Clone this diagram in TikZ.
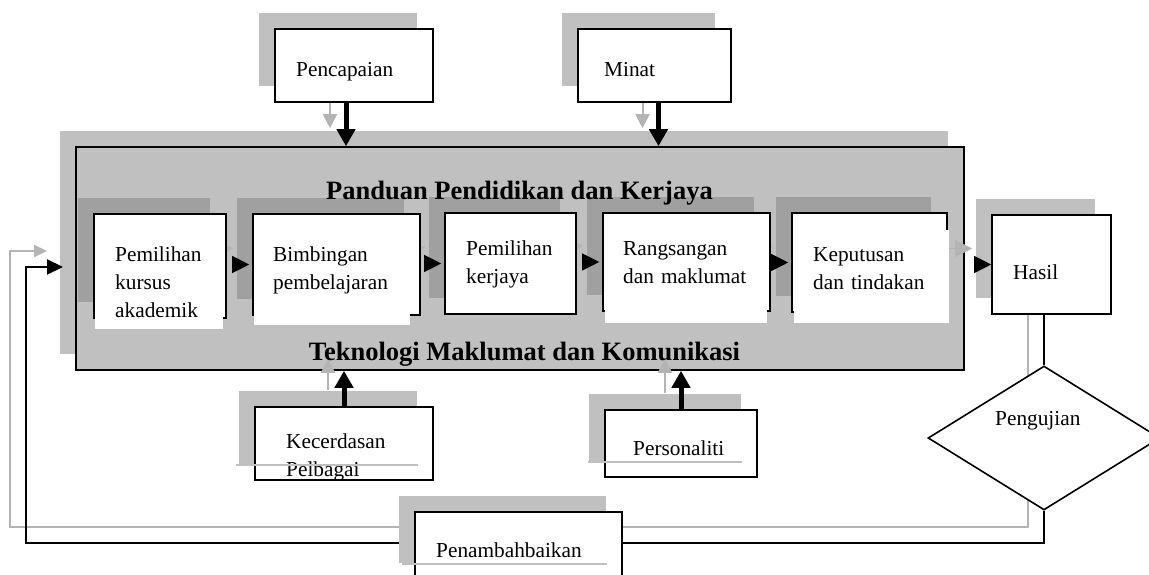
\documentclass[tikz,border=0pt]{standalone}
\usepackage{fontspec}
\setmainfont{Liberation Serif}
\usetikzlibrary{arrows.meta,shapes.geometric,shadows}
\pgfdeclarelayer{back}
\pgfdeclarelayer{mid}
\pgfsetlayers{back,mid,main}
\definecolor{shadelight}{HTML}{C0C0C0}
\definecolor{shadedark}{HTML}{A0A0A0}
\definecolor{ghost}{HTML}{B4B4B4}
\tikzset{
	shd/.style={general shadow={fill=#1, shadow xshift=-16pt, shadow yshift=16pt}},
	frame/.style={draw=black, line width=1.6pt, fill=white, inner sep=0pt, shd=shadelight},
	inbox/.style={frame, shd=shadedark},
	txt/.style={inner sep=0pt, anchor=base west, align=left, text width=#1pt,
		font=\fontsize{21.3}{28}\selectfont},
	txt/.default=160,
	title/.style={inner sep=0pt, anchor=base, font=\fontsize{26.5}{30}\selectfont\bfseries},
	bigarrow/.style={-{Triangle[length=17pt,width=18pt]}, line width=5pt},
	ghostarrow/.style={-{Triangle[length=14pt,width=14pt]}, line width=2pt, draw=ghost},
	rowarrow/.style={-{Triangle[length=17pt,width=17pt]}, line width=1pt, shorten <=7pt, shorten >=3pt},
	rowghost/.style={rowarrow, draw=ghost, fill=ghost},
	fbline/.style={line width=2.2pt},
	edgeline/.style={line width=1.5pt, draw=shadelight}
}
\begin{document}
\begin{tikzpicture}[x=1pt, y=-1pt]
	\useasboundingbox (0,0) rectangle (1149,575);
	\begin{pgfonlayer}{back}
	\node[frame, fill=shadelight, minimum width=888pt, minimum height=223pt] (main) at (520,258.5) {};
	\end{pgfonlayer}
	\node[frame, minimum width=158pt, minimum height=73pt] (penc)   at (354,65.5)    {};
	\node[frame, minimum width=153pt, minimum height=73pt] (minat)  at (654.5,65.5)  {};
	\node[inbox, minimum width=132pt, minimum height=104pt] (kursus)  at (160,266)    {};
	\node[inbox, minimum width=167pt, minimum height=101pt] (bimb)    at (336.5,264.5) {};
	\node[inbox, minimum width=131pt, minimum height=101pt] (kerjaya) at (510.5,263.5) {};
	\node[inbox, minimum width=167pt, minimum height=98pt]  (rangs)   at (686.5,262)   {};
	\node[inbox, minimum width=155pt, minimum height=99pt]  (keput)   at (869.5,262.5) {};
	\node[frame, minimum width=119pt, minimum height=99pt]  (hasil)   at (1051.5,264.5) {};
	\node[frame, minimum width=178pt, minimum height=73pt]  (kec)     at (344,443.5)   {};
	\node[frame, minimum width=152pt, minimum height=67pt]  (pers)    at (681,443.5)   {};
	\node[frame, minimum width=207pt, minimum height=67pt]  (penamb)  at (518.5,545.5) {};
	\node[draw=black, line width=1.6pt, fill=white, diamond, inner sep=0pt,
		minimum width=232pt, minimum height=144pt] (uji) at (1044,438) {};
	%putih di bawah bingkai
	\fill[white] (95,317)  rectangle (223,329);
	\fill[white] (254,313) rectangle (410,325);
	\fill[white] (605,309) rectangle (767,323);
	\fill[white] (794,310) rectangle (949,323);
	\fill[white] (943,230) rectangle (949,310);
	\node[txt] (pencT)   at (296,77)  {Pencapaian};
	\node[txt] (minatT)  at (604,77)  {Minat};
	\node[txt] (kursusT) at (115,261) {Pemilihan\\kursus\\akademik};
	\node[txt] (bimbT)   at (273,261) {Bimbingan\\pembelajaran};
	\node[txt] (kerjayaT) at (466,255) {Pemilihan\\kerjaya};
	\node[txt] (rangsT)  at (623,255) {Rangsangan\\dan maklumat};
	\node[txt] (keputT)  at (813,261) {Keputusan\\dan tindakan};
	\node[txt] (hasilT)  at (1013,279) {Hasil};
	\node[txt] (kecT)    at (286,448) {Kecerdasan\\Pelbagai};
	\node[txt] (persT)   at (633,455) {Personaliti};
	\node[txt] (penambT) at (436,557) {Penambahbaikan};
	\node[txt] (ujiT)    at (995,425) {Pengujian};
	\node[title] (judul) at (519.5,200) {Panduan Pendidikan dan Kerjaya};
	\node[title] (ict)   at (524.5,360) {Teknologi Maklumat dan Komunikasi};
	\coordinate (loopL) at (26,543);
	\coordinate (entry) at (63,267);
	%bayang anak panah
	\begin{pgfonlayer}{mid}
	\draw[ghostarrow] ([shift={(-24,0)}]penc.south) -- ([shift={(-24,-18)}]penc.south |- main.north);
	\draw[ghostarrow] ([shift={(-12,0)}]minat.south) -- ([shift={(-12,-18)}]minat.south |- main.north);
	\draw[ghostarrow] ([shift={(-16,-16)}]kec.north) -- ([shift={(-16,-12)}]kec.north |- main.south);
	\draw[ghostarrow] ([shift={(-16,-16)}]pers.north) -- ([shift={(-16,-12)}]pers.north |- main.south);
	\draw[rowghost] ([shift={(-16,-16)}]kursus.east |- bimb.west) -- ([shift={(-16,-16)}]bimb.west);
	\draw[rowghost] ([shift={(-16,-16)}]bimb.east |- kerjaya.west) -- ([shift={(-16,-16)}]kerjaya.west);
	\draw[rowghost] ([shift={(-16,-16)}]kerjaya.east |- rangs.west) -- ([shift={(-16,-16)}]rangs.west);
	\draw[rowghost] ([shift={(-16,-16)}]rangs.east |- keput.west) -- ([shift={(-16,-16)}]keput.west);
	\draw[rowghost, shorten <=14pt] ([shift={(-16,-16)}]keput.east |- hasil.west) -- ([shift={(-16,-16)}]hasil.west);
	\draw[fbline, draw=ghost, -{Triangle[length=13pt,width=12pt]}]
		([xshift=-16pt]hasil.south -| uji.north) |- ([shift={(-16,-16)}]loopL) |- ([shift={(-16,-16)}]entry);
	\draw[fbline, -{Triangle[length=16pt,width=15pt]}] (uji.south) |- (loopL) |- (entry);
	\end{pgfonlayer}
	\draw[bigarrow] ([xshift=-8pt]penc.south) -- ([xshift=-8pt]penc.south |- main.north);
	\draw[bigarrow] ([xshift=4pt]minat.south) -- ([xshift=4pt]minat.south |- main.north);
	\draw[bigarrow] (kec.north) -- (kec.north |- main.south);
	\draw[bigarrow] (pers.north) -- (pers.north |- main.south);
	\draw[rowarrow] (kursus.east |- bimb.west) -- (bimb.west);
	\draw[rowarrow] (bimb.east |- kerjaya.west) -- (kerjaya.west);
	\draw[rowarrow] (kerjaya.east |- rangs.west) -- (rangs.west);
	\draw[rowarrow] (rangs.east |- keput.west) -- (keput.west);
	\draw[rowarrow, shorten <=28pt, shorten >=0pt] (keput.east |- hasil.west) -- (hasil.west);
	\draw[fbline] (hasil.south -| uji.north) -- (uji.north);
	%garis bayang di bawah kotak
	\draw[edgeline] ([shift={(-18,-16)}]kec.south west) -- ([shift={(-16,-16)}]kec.south east);
	\draw[edgeline] ([shift={(-16,-16)}]pers.south west) -- ([shift={(-16,-16)}]pers.south east);
	\draw[edgeline] ([shift={(-12,-16)}]penamb.south west) -- ([shift={(-16,-16)}]penamb.south east);
\end{tikzpicture}
\end{document}
